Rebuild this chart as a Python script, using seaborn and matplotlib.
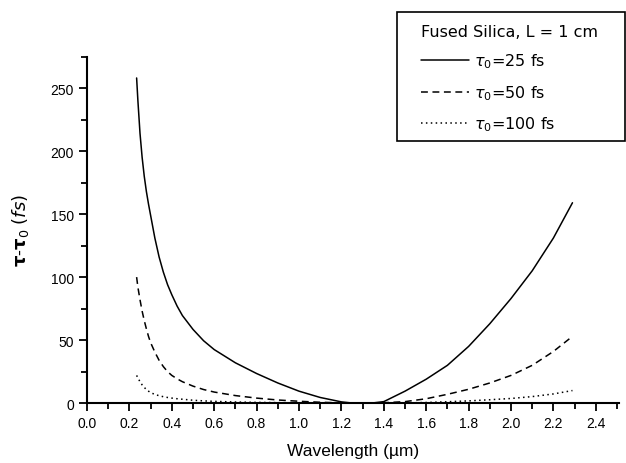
"""Pulse broadening vs wavelength in fused silica (L = 1 cm)."""

import matplotlib
matplotlib.use("Agg")
import matplotlib.pyplot as plt
import pandas as pd
import seaborn as sns
from matplotlib.patches import Rectangle
from matplotlib.ticker import MultipleLocator

# wavelength grid in um
WAVELENGTH = [0.234, 0.24, 0.25, 0.26, 0.27, 0.28, 0.29, 0.30, 0.32, 0.34,
              0.36, 0.38, 0.40, 0.425, 0.45, 0.50, 0.55, 0.60, 0.70, 0.80,
              0.90, 1.00, 1.10, 1.20, 1.25, 1.30, 1.35, 1.40, 1.50, 1.60,
              1.70, 1.80, 1.90, 2.00, 2.10, 2.20, 2.29]

# tau - tau0 in fs for each initial pulse width
BROAD_25FS = [258, 240, 214, 195, 180, 168, 158, 149, 131, 116,
              104, 94, 86, 77, 69.5, 58.5, 49.5, 42.5, 32, 23.5,
              16, 9.5, 4.5, 1, 0.1, 0, 0.2, 1.2, 9.5, 19,
              30, 45, 63, 83, 105, 131, 159]
BROAD_50FS = [100, 92, 82, 73, 65.5, 59, 53, 48, 40.5, 34,
              29, 25, 22, 19.3, 17, 13.5, 10.8, 8.8, 6, 4,
              2.5, 1.5, 0.7, 0.2, 0.05, 0, 0.05, 0.3, 1.2, 3.5,
              7, 11, 16, 22, 30, 41, 53]
BROAD_100FS = [22, 20, 17, 14.5, 12.5, 10.8, 9.5, 8.4, 6.9, 5.9,
               5.1, 4.5, 4, 3.5, 3.1, 2.3, 1.8, 1.4, 0.9, 0.6,
               0.4, 0.2, 0.1, 0, 0, 0, 0, 0.05, 0.2, 0.5,
               1.1, 1.8, 2.7, 3.7, 5.2, 7.3, 10]

LABELS = [r"$\tau_0$=25 fs", r"$\tau_0$=50 fs", r"$\tau_0$=100 fs"]

sns.set_style("ticks")
plt.rcParams["font.family"] = ["Liberation Sans", "DejaVu Sans"]
plt.rcParams["mathtext.fontset"] = "custom"
plt.rcParams["mathtext.rm"] = "DejaVu Sans"
plt.rcParams["mathtext.it"] = "DejaVu Sans:italic"
plt.rcParams["mathtext.bf"] = "DejaVu Sans:bold"
for key in ("text.color", "axes.labelcolor", "xtick.color", "ytick.color"):
    plt.rcParams[key] = "black"

df = pd.concat(
    [
        pd.DataFrame({"wavelength": WAVELENGTH, "broadening": vals, "pulse": lab})
        for vals, lab in zip([BROAD_25FS, BROAD_50FS, BROAD_100FS], LABELS)
    ],
    ignore_index=True,
)

fig = plt.figure(figsize=(6.26, 4.64), dpi=100)
ax = fig.add_axes([0.139, 0.129, 0.85, 0.747])

sns.lineplot(
    data=df, x="wavelength", y="broadening",
    style="pulse", style_order=LABELS,
    dashes={LABELS[0]: "", LABELS[1]: (4.5, 3), LABELS[2]: (1, 2.2)},
    color="black", linewidth=1.1, ax=ax, sort=False,
)

ax.set_xlim(0, 2.51)
ax.set_ylim(0, 275)
ax.xaxis.set_major_locator(MultipleLocator(0.2))
ax.xaxis.set_minor_locator(MultipleLocator(0.1))
ax.yaxis.set_major_locator(MultipleLocator(50))
ax.yaxis.set_minor_locator(MultipleLocator(25))
ax.tick_params(which="major", direction="out", length=6, width=1.3,
               labelsize=10, colors="black")
ax.tick_params(which="minor", direction="out", length=4, width=1.3)
sns.despine(ax=ax)
for side in ("left", "bottom"):
    ax.spines[side].set_linewidth(1.5)
    ax.spines[side].set_color("black")

ax.set_xlabel("Wavelength (µm)", fontsize=12.5, labelpad=9)
ax.set_ylabel(r"$\mathbf{\tau}$-$\mathbf{\tau}_0$ $\mathit{(fs)}$",
              fontsize=13, labelpad=14)

# legend frame drawn separately so the inner left margin matches
fig.add_artist(Rectangle((397 / 626, 1 - 141.7 / 464), 228 / 626, 129 / 464,
                         transform=fig.transFigure, fill=False,
                         edgecolor="black", linewidth=1.2))

handles, labels = ax.get_legend_handles_labels()
leg = ax.legend(
    handles=handles, labels=labels,
    title="Fused Silica, L = 1 cm", alignment="left",
    prop={"family": "DejaVu Sans", "size": 11.5},
    title_fontproperties={"family": "DejaVu Sans", "size": 11.5},
    loc="upper left", bbox_to_anchor=(421 / 626, 1 - 25 / 464),
    bbox_transform=fig.transFigure, borderaxespad=0, borderpad=0,
    frameon=False, handlelength=3.0, handletextpad=0.3, labelspacing=0.8,
)
for txt in leg.get_texts():
    txt.set_color("black")
leg.get_title().set_color("black")

fig.savefig("out.png", dpi=100)
